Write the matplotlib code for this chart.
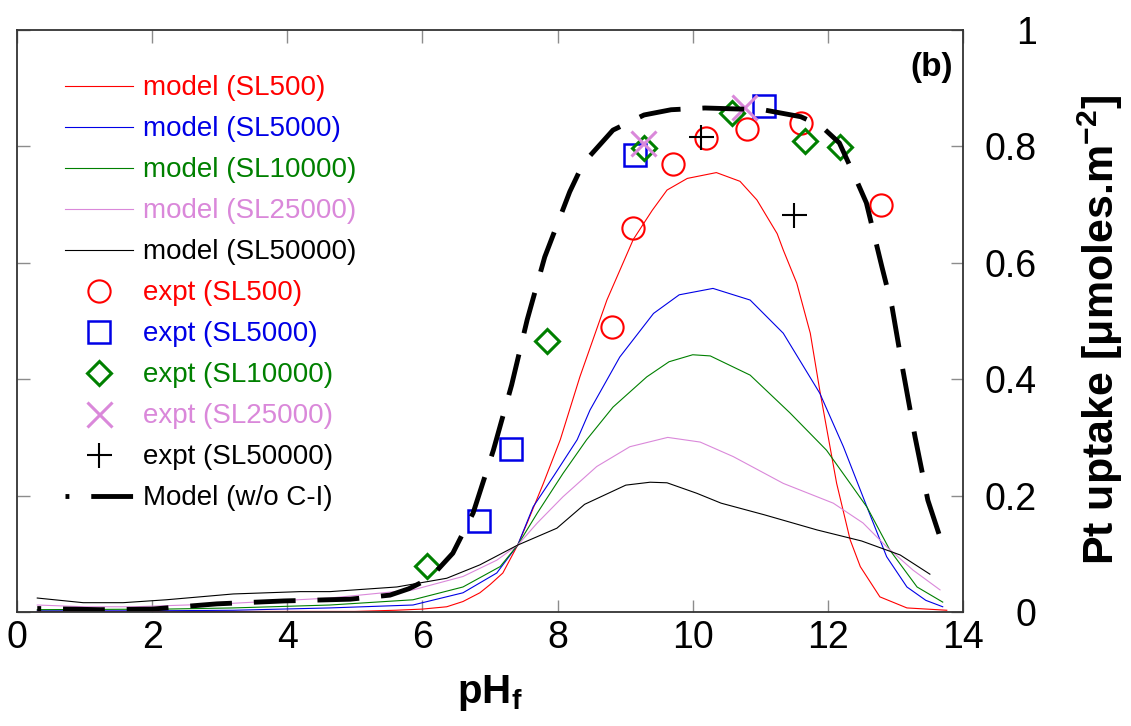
import matplotlib
matplotlib.use('Agg')
import matplotlib.pyplot as plt

plt.rcParams['font.family'] = ['Liberation Sans', 'DejaVu Sans']
plt.rcParams['mathtext.fontset'] = 'custom'
plt.rcParams['mathtext.rm'] = 'Liberation Sans'
plt.rcParams['mathtext.bf'] = 'Liberation Sans:bold'
plt.rcParams['mathtext.default'] = 'bf'

# model curves (pH_f, uptake)
ph_sl500 = [0.3, 2.0, 4.0, 5.0, 5.6, 6.0, 6.36, 6.6, 6.85, 7.0, 7.19, 7.41, 7.55, 7.79, 8.04, 8.33,
            8.73, 9.12, 9.4, 9.62, 9.92, 10.35, 10.7, 10.95, 11.25, 11.34, 11.54, 11.74, 11.88,
            12.13, 12.33, 12.48, 12.77, 13.17, 13.76]
up_sl500 = [0.001, 0.001, 0.001, 0.001, 0.003, 0.005, 0.009, 0.018, 0.033, 0.047, 0.067, 0.115, 0.153,
            0.221, 0.296, 0.404, 0.536, 0.64, 0.69, 0.725, 0.745, 0.755, 0.74, 0.708, 0.65, 0.622,
            0.565, 0.479, 0.381, 0.221, 0.124, 0.078, 0.026, 0.007, 0.003]

ph_sl5000 = [0.3, 2.0, 3.2, 4.63, 5.86, 6.6, 7.1, 7.41, 7.64, 7.95, 8.29, 8.48, 8.92, 9.42, 9.8, 10.3,
             10.85, 11.34, 11.88, 12.23, 12.58, 12.87, 13.17, 13.45, 13.7]
up_sl5000 = [0.002, 0.002, 0.003, 0.007, 0.012, 0.033, 0.067, 0.115, 0.181, 0.235, 0.296, 0.347, 0.438,
             0.513, 0.545, 0.556, 0.536, 0.479, 0.376, 0.284, 0.18, 0.095, 0.043, 0.02, 0.009]

ph_sl10000 = [0.3, 2.2, 3.2, 4.63, 5.86, 6.6, 7.15, 7.41, 7.7, 8.08, 8.43, 8.82, 9.32, 9.65, 10.0, 10.26,
              10.85, 11.44, 11.98, 12.33, 12.58, 12.92, 13.32, 13.7]
up_sl10000 = [0.004, 0.005, 0.007, 0.012, 0.021, 0.043, 0.078, 0.115, 0.17, 0.238, 0.296, 0.352, 0.404,
              0.43, 0.442, 0.44, 0.407, 0.342, 0.278, 0.221, 0.18, 0.106, 0.043, 0.017]

ph_sl25000 = [0.3, 1.0, 1.73, 2.5, 3.2, 4.63, 5.86, 6.6, 7.1, 7.41, 7.7, 8.08, 8.58, 9.07, 9.63, 10.11,
              10.6, 11.34, 12.08, 12.52, 12.87, 13.26, 13.66]
up_sl25000 = [0.012, 0.009, 0.009, 0.012, 0.015, 0.024, 0.038, 0.061, 0.089, 0.115, 0.153, 0.198, 0.25,
              0.284, 0.30, 0.292, 0.267, 0.221, 0.187, 0.153, 0.112, 0.072, 0.038]

ph_sl50000 = [0.3, 0.98, 1.57, 2.21, 3.2, 4.19, 4.63, 5.62, 6.36, 6.85, 7.41, 7.99, 8.4, 9.01, 9.37, 9.62,
              10.06, 10.42, 11.06, 11.84, 12.5, 13.07, 13.51]
up_sl50000 = [0.024, 0.016, 0.016, 0.021, 0.031, 0.035, 0.035, 0.043, 0.058, 0.081, 0.115, 0.144, 0.185,
              0.218, 0.223, 0.222, 0.204, 0.187, 0.167, 0.141, 0.122, 0.098, 0.065]

# model without C-I
ph_noci = [0.3, 1.23, 2.0, 2.96, 3.95, 4.93, 5.52, 5.8, 6.11, 6.45, 6.75, 7.05, 7.32, 7.55, 7.81, 8.18,
           8.38, 8.82, 9.28, 9.68, 10.18, 11.04, 11.6, 11.9, 12.17, 12.4, 12.57, 12.8, 12.95, 13.11,
           13.29, 13.48, 13.69]
up_noci = [0.006, 0.004, 0.005, 0.014, 0.019, 0.022, 0.029, 0.04, 0.058, 0.101, 0.17, 0.278, 0.39, 0.502,
           0.61, 0.722, 0.771, 0.828, 0.854, 0.863, 0.866, 0.863, 0.851, 0.835, 0.806, 0.748, 0.703,
           0.593, 0.524, 0.416, 0.301, 0.192, 0.118]

# experimental points
ex_ph_sl500 = [8.81, 9.12, 9.71, 10.2, 10.8, 11.6, 12.79]
ex_up_sl500 = [0.49, 0.66, 0.77, 0.814, 0.83, 0.84, 0.699]
ex_ph_sl5000 = [6.84, 7.31, 9.14, 11.06]
ex_up_sl5000 = [0.156, 0.28, 0.785, 0.87]
ex_ph_sl10000 = [6.07, 7.84, 9.28, 10.58, 11.66, 12.18]
ex_up_sl10000 = [0.079, 0.466, 0.797, 0.858, 0.809, 0.799]
ex_ph_sl25000 = [9.26, 10.76]
ex_up_sl25000 = [0.806, 0.868]
ex_ph_sl50000 = [10.12, 11.5]
ex_up_sl50000 = [0.816, 0.682]

xticks = [0, 2, 4, 6, 8, 10, 12, 14]
yticks = [0, 0.2, 0.4, 0.6, 0.8, 1.0]
ytick_labels = ['0', '0.2', '0.4', '0.6', '0.8', '1']

red = '#ff0000'
blue = '#0000e6'
green = '#008000'
pink = '#da88da'
black = '#000000'

fig = plt.figure(figsize=(11.31, 7.26), dpi=100)
ax = fig.add_axes([17 / 1131, 114 / 726, 946 / 1131, 582 / 726])

h = []
h += ax.plot(ph_sl500, up_sl500, color=red, lw=0.8, label='model (SL500)')
h += ax.plot(ph_sl5000, up_sl5000, color=blue, lw=0.8, label='model (SL5000)')
h += ax.plot(ph_sl10000, up_sl10000, color=green, lw=0.8, label='model (SL10000)')
h += ax.plot(ph_sl25000, up_sl25000, color=pink, lw=0.8, label='model (SL25000)')
h += ax.plot(ph_sl50000, up_sl50000, color=black, lw=0.8, label='model (SL50000)')

h += ax.plot(ex_ph_sl500, ex_up_sl500, 'o', ms=16, mfc='none', mec=red, mew=1.5, label='expt (SL500)')
h += ax.plot(ex_ph_sl5000, ex_up_sl5000, 's', ms=16, mfc='none', mec=blue, mew=1.8, label='expt (SL5000)')
h += ax.plot(ex_ph_sl10000, ex_up_sl10000, 'D', ms=12, mfc='none', mec=green, mew=2.2, label='expt (SL10000)')
h += ax.plot(ex_ph_sl25000, ex_up_sl25000, 'x', ms=18, mec=pink, mew=2.2, label='expt (SL25000)')
h += ax.plot(ex_ph_sl50000, ex_up_sl50000, '+', ms=18, mec=black, mew=1.5, label='expt (SL50000)')

h += ax.plot(ph_noci, up_noci, color=black, lw=3.5, ls=(7.8, (8.6, 4.5)), label='Model (w/o C-I)')

ax.set_xlim(0, 14)
ax.set_ylim(0, 1)
ax.set_xticks(xticks)
ax.set_yticks(yticks)
ax.set_yticklabels(ytick_labels)
ax.tick_params(direction='in', length=9, width=1, color='#8c8c8c', top=True, right=True,
               labelsize=27)
ax.tick_params(axis='x', pad=6)
ax.tick_params(axis='y', left=True, labelleft=False, labelright=True, pad=53)
for t in ax.get_yticklabels():
    t.set_horizontalalignment('right')
for s in ax.spines.values():
    s.set_linewidth(1.3)
    s.set_color('#333333')

ax.set_xlabel('pH$_f$', fontsize=29, fontweight='bold', labelpad=12)
fig.text(1100 / 1131, 1 - 330 / 726, 'Pt uptake [μmoles.m$^{-2}$]', rotation=90, fontsize=31,
         fontweight='bold', ha='center', va='center')
ax.text(13.85, 0.935, '(b)', fontsize=24, fontweight='bold', ha='right', va='center')

leg = ax.legend(handles=h, loc='upper left', bbox_to_anchor=(0.0507, 0.922), frameon=False,
                fontsize=20, handlelength=2.45, handletextpad=0.36, labelspacing=0.54,
                borderpad=0, borderaxespad=0)
for t, l in zip(leg.get_texts(), h):
    c = l.get_color() if l.get_linestyle() not in ('None', '') else l.get_markeredgecolor()
    t.set_color(c)

fig.savefig('out.png', dpi=100)
